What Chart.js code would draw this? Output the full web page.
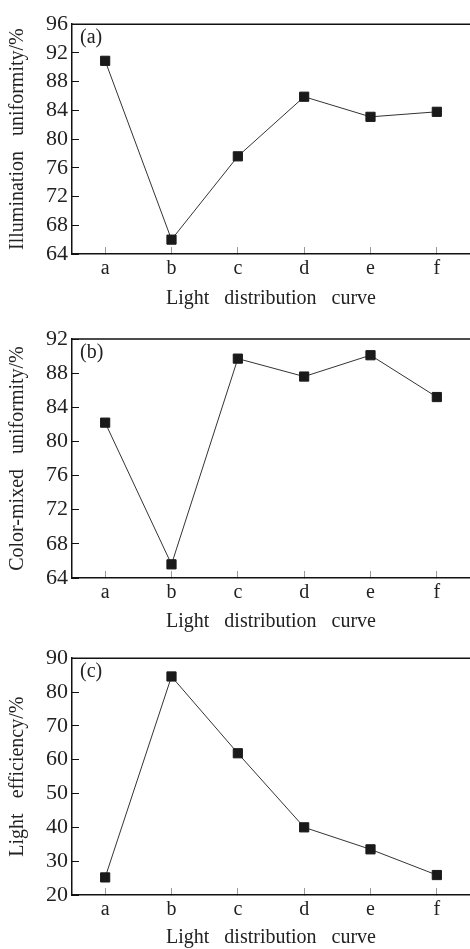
<!DOCTYPE html>
<html>
<head>
<meta charset="utf-8">
<script src="https://cdn.jsdelivr.net/npm/chart.js@4"></script>
<style>
  html, body { margin: 0; padding: 0; background: #fff; overflow: hidden; }
  body { width: 470px; height: 949px; position: relative; }
  canvas { position: absolute; left: 0; display: block; }
</style>
</head>
<body>
<canvas id="chartA" width="470" height="311" style="top:0px"></canvas>
<canvas id="chartB" width="470" height="323" style="top:311px"></canvas>
<canvas id="chartC" width="470" height="316" style="top:634px"></canvas>
<script>
const categories = ['a', 'b', 'c', 'd', 'e', 'f'];
const illumination = [90.9, 66.0, 77.6, 85.9, 83.1, 83.8];
const colorMixed = [82.2, 65.6, 89.7, 87.6, 90.1, 85.2];
const efficiency = [25.2, 84.6, 61.9, 40.0, 33.5, 25.9];

const xTitle = 'Light   distribution   curve';
const FONT = "'Liberation Serif', 'DejaVu Serif', serif";

// draws the "(a)" label and the top frame line
const frame = {
    id: 'frame',
    afterDraw(chart, args, opts) {
        const {ctx, chartArea} = chart;
        ctx.save();
        ctx.strokeStyle = '#111';
        ctx.lineWidth = 1.5;
        ctx.beginPath();
        ctx.moveTo(chartArea.left, chartArea.top);
        ctx.lineTo(chartArea.right, chartArea.top);
        ctx.stroke();
        ctx.fillStyle = '#222';
        ctx.font = '20px ' + FONT;
        ctx.textBaseline = 'middle';
        ctx.fillText(opts.label, chartArea.left + 8, chartArea.top + 14);
        ctx.restore();
    }
};

function makeChart(id, values, label, yTitle, min, max, step, padTop, xHeight) {
    return new Chart(document.getElementById(id), {
        type: 'line',
        data: {
            labels: categories,
            datasets: [{
                data: values,
                borderColor: '#333',
                borderWidth: 1,
                pointStyle: 'rect',
                pointRadius: 6.5,
                pointHoverRadius: 6.5,
                pointBackgroundColor: '#1a1a1a',
                pointBorderColor: '#1a1a1a',
                pointBorderWidth: 1,
                tension: 0,
                clip: false
            }]
        },
        options: {
            responsive: false,
            animation: false,
            devicePixelRatio: 1,
            layout: { autoPadding: false, padding: { top: padTop, left: 0, right: 0, bottom: 0 } },
            plugins: {
                legend: { display: false },
                tooltip: { enabled: false },
                frame: { label }
            },
            scales: {
                x: {
                    offset: true,
                    grid: { drawOnChartArea: false, drawTicks: true, tickLength: -7, color: '#999', offset: false },
                    border: { color: '#111', width: 1.5 },
                    ticks: { color: '#222', font: { family: FONT, size: 20 }, padding: 10, maxRotation: 0 },
                    title: { display: true, text: xTitle, color: '#222', font: { family: FONT, size: 20 }, padding: 0 },
                    afterFit(scale) { scale.height = xHeight; }
                },
                y: {
                    min, max,
                    grid: { drawOnChartArea: false, drawTicks: true, tickLength: -7, color: '#111' },
                    border: { color: '#111', width: 1.5 },
                    ticks: { stepSize: step, autoSkip: false, color: '#222', font: { family: FONT, size: 22 }, padding: 11 },
                    title: { display: true, text: yTitle, color: '#222', font: { family: FONT, size: 20 }, padding: 6 },
                    afterFit(scale) { scale.width = 72; }
                }
            }
        },
        plugins: [frame]
    });
}

makeChart('chartA', illumination, '(a)', 'Illumination   uniformity/%', 64, 96, 4, 14, 57);
makeChart('chartB', colorMixed, '(b)', 'Color-mixed   uniformity/%', 64, 92, 4, 28, 56);
makeChart('chartC', efficiency, '(c)', 'Light   efficiency/%', 20, 90, 10, 21, 55);
</script>
</body>
</html>
